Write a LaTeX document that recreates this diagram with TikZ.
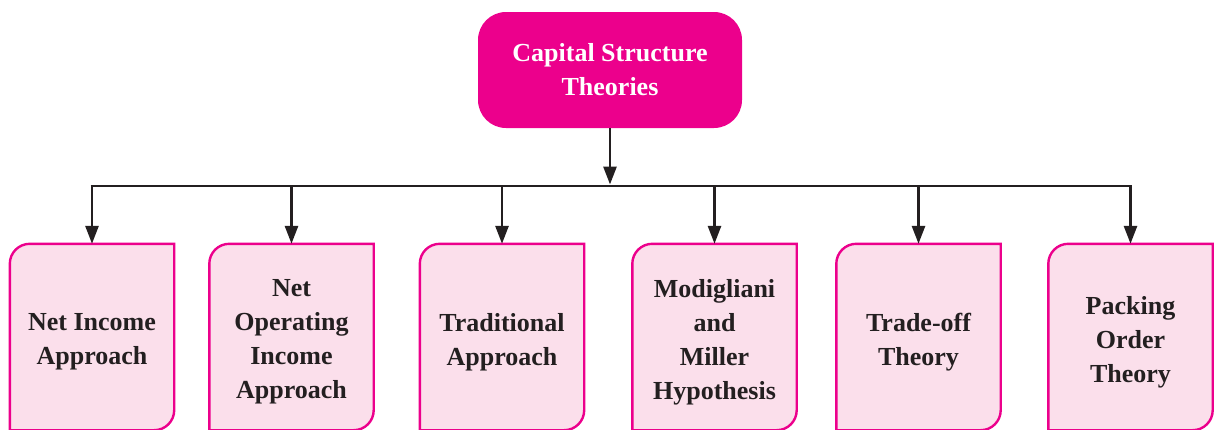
\documentclass[tikz,border=0pt]{standalone}
\usepackage{fontspec}
\setmainfont{Liberation Serif}
\usetikzlibrary{arrows.meta,backgrounds}
\definecolor{mag}{HTML}{EC008C}
\definecolor{lpink}{HTML}{FBDFEB}
\definecolor{txt}{HTML}{231F20}
\tikzset{
  rootbox/.style={fill=mag, rounded corners=28pt, minimum width=264pt, minimum height=116pt,
    text=white, align=center, font=\bfseries\fontsize{26}{34}\selectfont, inner sep=0pt},
  childbox/.style={minimum width=164pt, minimum height=176pt, text=txt, align=center,
    font=\bfseries\fontsize{26}{34}\selectfont, inner sep=0pt},
  shapeline/.style={draw=mag, fill=lpink, line width=2.4pt},
  arr/.style={draw=txt, line width=2.8pt, -{Triangle[length=18pt,width=13pt]}},
  hline/.style={draw=txt, line width=2.8pt},
}
\newcommand{\leafshape}[1]{%
  \path[shapeline] ([yshift=10pt]#1.north east) [rounded corners=20pt] -- (#1.south east) [sharp corners] -- (#1.south west) [rounded corners=20pt] -- ([yshift=10pt]#1.north west) [sharp corners] -- cycle;}
\begin{document}
\begin{tikzpicture}[x=1pt,y=-1pt]
\useasboundingbox (0,0) rectangle (1215,429);
\node[rootbox] (root) at (610,70) {Capital Structure\\Theories};
\node[childbox] (c1) at (92,342) {Net Income\\Approach};
\node[childbox] (c2) at (291.5,342) {Net\\Operating\\Income\\Approach};
\node[childbox] (c3) at (502,342) {Traditional\\Approach};
\node[childbox] (c4) at (714.5,342) {Modigliani\\and\\Miller\\Hypothesis};
\node[childbox] (c5) at (918.5,342) {Trade-off\\Theory};
\node[childbox] (c6) at (1130.5,342) {Packing\\Order\\Theory};
\begin{pgfonlayer}{background}
\leafshape{c1}\leafshape{c2}\leafshape{c3}\leafshape{c4}\leafshape{c5}\leafshape{c6}
\end{pgfonlayer}
\coordinate (j) at (610,186);
\draw[arr] (root.south) -- ([yshift=1.5pt]j);
\draw[hline] ([xshift=-1.4pt]c1 |- j) -- ([xshift=1.4pt]c6 |- j);
\foreach \n in {c1,c2,c3,c4,c5,c6} \draw[arr] (\n |- j) -- ([yshift=10pt]\n.north);
\end{tikzpicture}
\end{document}
